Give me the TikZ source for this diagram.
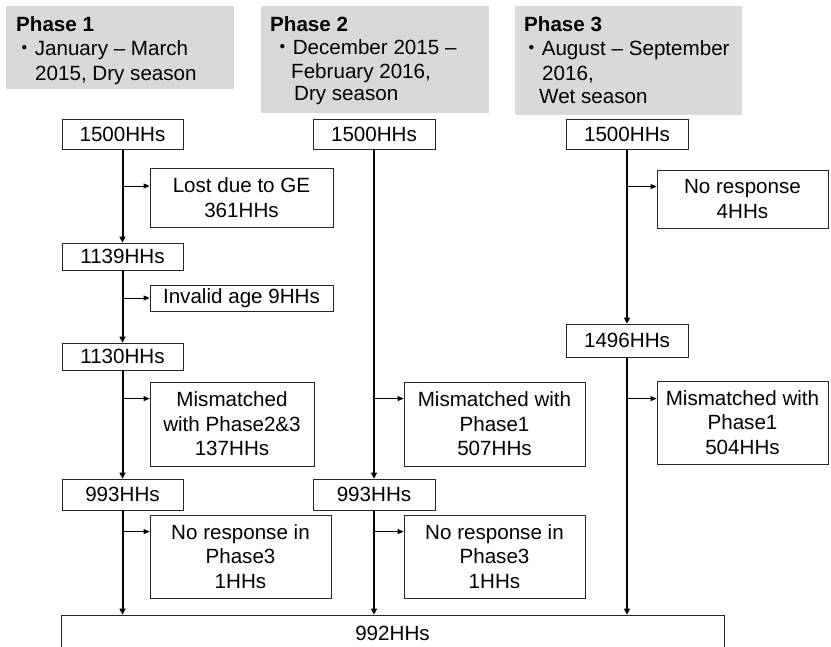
\documentclass[tikz,border=0pt]{standalone}
\usepackage{fontspec}
\setmainfont{Liberation Sans}
\newfontfamily\cjk{Noto Sans CJK JP}
\usetikzlibrary{arrows.meta,calc}
\definecolor{phasegray}{HTML}{D9D9D9}
\tikzset{
  txt/.style={font=\fontsize{20.6}{24.5}\selectfont, inner sep=0pt},
  phasebg/.style={fill=phasegray, draw=none},
  ptext/.style={txt, anchor=base west},
  box/.style={draw=black!85, line width=0.8pt, fill=white, inner sep=0pt, align=center,
              font=\fontsize{20.6}{24.5}\selectfont},
  flow/.style={line width=2pt, -{Triangle[length=6pt,width=6pt]}},
  branch/.style={line width=0.8pt, -{Triangle[length=6pt,width=5pt]}},
}
\begin{document}
\begin{tikzpicture}[x=1pt,y=-1pt]
\useasboundingbox (0,0) rectangle (831,647);
\clip (0,0) rectangle (831,647);
% phase headers
\fill[phasebg] (6,6) rectangle (234,89);
\fill[phasebg] (261,6) rectangle (489,113);
\fill[phasebg] (515,6) rectangle (742,115);
\node[ptext] (p1t) at (16,32) {\bfseries Phase 1};
\node[ptext] (p1a) at (14,56) {{\cjk ・}January – March};
\node[ptext] (p1b) at (35,81) {2015, Dry season};
\node[ptext] (p2t) at (270,32) {\bfseries Phase 2};
\node[ptext] (p2a) at (272,55) {{\cjk ・}December 2015 –};
\node[ptext] (p2b) at (291,79) {February 2016,};
\node[ptext] (p2c) at (294,101) {Dry season};
\node[ptext] (p3t) at (524,32) {\bfseries Phase 3};
\node[ptext] (p3a) at (521,56) {{\cjk ・}August – September};
\node[ptext] (p3b) at (542,81) {2016,};
\node[ptext] (p3c) at (539,104) {Wet season};
% column 1
\node[box, minimum width=121, minimum height=30] (a1) at (122.5,134) {1500HHs};
\node[box, minimum width=183, minimum height=59] (l1) at (241.5,197.5) {Lost due to GE\\361HHs};
\node[box, minimum width=121, minimum height=27] (b1) at (122.5,256.5) {1139HHs};
\node[box, minimum width=183, minimum height=26] (i1) at (241.5,298) {Invalid age 9HHs};
\node[box, minimum width=121, minimum height=27] (c1) at (122.5,356.5) {1130HHs};
\node[box, minimum width=164, minimum height=84] (m1) at (232,424) {Mismatched\\with Phase2\&3\\137HHs};
\node[box, minimum width=121, minimum height=31] (d1) at (122.5,494.5) {993HHs};
\node[box, minimum width=181, minimum height=83] (n1) at (240.5,556.5) {No response in\\Phase3\\1HHs};
% column 2
\node[box, minimum width=122, minimum height=30] (a2) at (374,134) {1500HHs};
\node[box, minimum width=181, minimum height=84] (m2) at (494.5,424) {Mismatched with\\Phase1\\507HHs};
\node[box, minimum width=122, minimum height=31] (d2) at (374,494.5) {993HHs};
\node[box, minimum width=181, minimum height=83] (n2) at (494.5,556.5) {No response in\\Phase3\\1HHs};
% column 3
\node[box, minimum width=122, minimum height=30] (a3) at (627,134) {1500HHs};
\node[box, minimum width=171, minimum height=58] (r3) at (742.5,199) {No response\\4HHs};
\node[box, minimum width=122, minimum height=33] (b3) at (627,340.5) {1496HHs};
\node[box, minimum width=171, minimum height=83] (m3) at (742.5,422.5) {Mismatched with\\Phase1\\504HHs};
% bottom
\node[box, minimum width=663, minimum height=36] (fin) at (392.5,633) {992HHs};
% flow lines
\draw[flow] (a1) -- (b1);
\draw[flow] (b1) -- (c1);
\draw[flow] (c1) -- (d1);
\draw[flow] (d1.south) -- (d1.south |- fin.north);
\draw[flow] (a2) -- (d2);
\draw[flow] (d2.south) -- (d2.south |- fin.north);
\draw[flow] (a3) -- (b3);
\draw[flow] (b3.south) -- (b3.south |- fin.north);
% branch entry points
\coordinate (l1in) at ([yshift=11.5pt]l1.west);
\coordinate (m1in) at ([yshift=-17pt]m1.north west);
\coordinate (n1in) at ([yshift=-17pt]n1.north west);
\coordinate (m2in) at ([yshift=-17pt]m2.north west);
\coordinate (n2in) at ([yshift=-17pt]n2.north west);
\coordinate (r3in) at ([yshift=-17pt]r3.north west);
\coordinate (m3in) at ([yshift=-18pt]m3.north west);
% branches
\draw[branch] (a1.south |- l1in) -- (l1in);
\draw[branch] (b1.south |- i1.west) -- (i1.west);
\draw[branch] (c1.south |- m1in) -- (m1in);
\draw[branch] (d1.south |- n1in) -- (n1in);
\draw[branch] (a2.south |- m2in) -- (m2in);
\draw[branch] (d2.south |- n2in) -- (n2in);
\draw[branch] (a3.south |- r3in) -- (r3in);
\draw[branch] (b3.south |- m3in) -- (m3in);
\end{tikzpicture}
\end{document}
